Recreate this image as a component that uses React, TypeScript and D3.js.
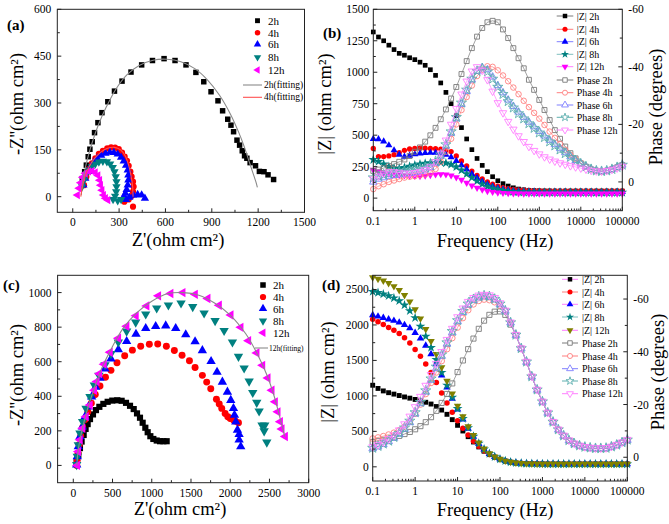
import React from "react";
import * as d3 from "d3";

type Pt = [number, number];
const SERIF = "'Liberation Serif', 'Times New Roman', serif";

// ---------- Bode frequency grid (Hz) ----------
const FREQ = [0.1, 0.1334, 0.1778, 0.2371, 0.3162, 0.4217, 0.5623, 0.7499, 1, 1.334, 1.778, 2.371, 3.162, 4.217, 5.623, 7.499, 10, 13.34, 17.78, 23.71, 31.62, 42.17, 56.23, 74.99, 100, 133.4, 177.8, 237.1, 316.2, 421.7, 562.3, 749.9, 1000, 1334, 1778, 2371, 3162, 4217, 5623, 7499, 10000, 13335, 17783, 23714, 31623, 42170, 56234, 74989, 100000];

// ---------- (a) Nyquist ----------
const A_2H: Pt[] = [[62,58],[77,80],[88,101],[100,128],[111,152],[126,176],[141,205],[163,237],[189,269],[227,304],[270,338],[319,370],[377,399],[446,422],[516,436],[591,442],[662,436],[733,422],[797,398],[848,368],[895,336],[940,307],[970,275],[1003,248],[1024,229],[1041,208],[1063,181],[1080,165],[1097,147],[1112,131],[1127,123],[1148,109],[1183,99],[1208,81],[1238,80],[1264,70],[1300,55]];
const A_4H: Pt[] = [[73,37],[88,64],[105,88],[124,107],[146,123],[169,137],[195,147],[223,155],[248,158],[274,157],[298,152],[319,141],[336,128],[351,115],[362,99],[373,80],[381,64],[390,48],[394,32],[390,16],[381,2],[362,-9],[334,-16],[390,-32]];
const A_6H: Pt[] = [[69,37],[81,59],[99,80],[116,96],[137,111],[159,123],[184,132],[212,139],[240,142],[266,141],[291,136],[313,126],[330,114],[345,100],[356,85],[360,69],[360,53],[356,37],[349,23],[341,11],[330,0],[345,-9],[366,-2],[394,4],[420,7],[446,5],[467,-5]];
const A_8H: Pt[] = [[60,32],[73,53],[88,72],[105,85],[124,96],[146,105],[169,111],[195,114],[221,112],[242,105],[259,94],[270,80],[278,64],[283,48],[283,32],[281,16],[274,2],[261,-9],[291,-13],[313,-9]];
const A_12H: Pt[] = [[30,5],[41,27],[51,45],[64,62],[81,75],[103,81],[124,82],[146,78],[163,68],[174,53],[180,37],[189,21],[199,5],[212,-5],[227,-11]];
const A_FIT_2H: Pt[] = [[55,5],[65,50],[80,90],[100,130],[130,180],[170,235],[220,290],[280,345],[350,390],[430,420],[520,437],[610,440],[700,432],[790,410],[870,375],[950,325],[1020,265],[1075,205],[1110,160],[1140,115],[1165,78],[1185,48],[1195,30]];
const A_FIT_4H: Pt[] = [[52,0],[62,30],[80,65],[105,95],[140,122],[180,142],[225,155],[270,158],[310,150],[340,130],[362,100],[378,65],[388,30],[390,0]];

// ---------- (c) Nyquist ----------
const C_2H: Pt[] = [[43,23],[64,61],[85,100],[106,138],[132,176],[157,211],[183,239],[213,268],[251,295],[289,320],[332,339],[383,356],[438,368],[497,375],[561,377],[616,374],[672,362],[723,345],[770,326],[812,301],[850,276],[884,247],[918,218],[948,192],[982,169],[1020,153],[1063,144],[1105,140],[1148,140],[1190,140]];
const C_4H: Pt[] = [[45,0],[50,30],[60,70],[75,120],[95,170],[120,220],[150,265],[185,310],[230,360],[280,410],[340,460],[410,510],[480,550],[557,594],[655,634],[753,667],[859,690],[969,701],[1076,703],[1186,690],[1288,665],[1386,638],[1480,605],[1552,567],[1645,521],[1700,482],[1752,444],[1824,383],[1860,355],[1892,330],[1935,300],[1969,282],[2000,272],[2020,270],[2045,262],[2062,257],[2105,247]];
const C_6H: Pt[] = [[43,4],[51,52],[64,109],[85,167],[115,224],[149,282],[191,339],[234,397],[285,454],[340,506],[404,559],[480,617],[574,670],[680,718],[799,760],[923,793],[1050,805],[1178,808],[1305,793],[1433,757],[1552,716],[1645,665],[1756,602],[1832,540],[1900,483],[1964,425],[2007,377],[2041,330],[2054,291],[2071,253],[2092,205],[2113,180],[2113,148],[2134,109]];
const C_8H: Pt[] = [[43,4],[51,52],[64,119],[85,186],[119,253],[162,330],[213,397],[268,464],[327,521],[404,582],[480,646],[574,713],[680,776],[795,828],[923,875],[1063,910],[1212,927],[1373,939],[1522,918],[1667,881],[1807,837],[1922,780],[2028,713],[2105,630],[2177,563],[2241,487],[2287,421],[2338,364],[2368,314],[2405,232],[2440,232],[2432,199],[2466,134]];
const C_12H: Pt[] = [[51,0],[64,80],[85,148],[119,215],[162,282],[213,349],[268,435],[300,485],[332,531],[391,586],[468,655],[574,736],[680,805],[799,866],[935,923],[1084,981],[1241,995],[1395,1000],[1552,990],[1713,966],[1858,927],[2007,870],[2134,799],[2232,722],[2338,651],[2411,579],[2479,506],[2530,435],[2572,368],[2606,310],[2636,253],[2657,211],[2700,167]];
const C_FIT_12H: Pt[] = [[45,0],[60,80],[90,160],[130,240],[190,340],[270,450],[370,570],[490,680],[630,790],[800,880],[1000,950],[1200,993],[1400,1000],[1600,985],[1800,940],[2000,870],[2200,760],[2350,640],[2470,520],[2560,400],[2620,300],[2660,230],[2695,165]];

// ---------- (b) Bode ----------
const B_Z2: number[] = [1320,1280,1250,1215,1180,1150,1135,1115,1100,1080,1055,1020,975,915,840,750,655,560,470,385,315,260,210,170,138,115,96,82,72,66,62,60,58,57,57,56,56,56,56,56,56,56,56,56,56,56,56,56,56];
const B_Z4: number[] = [395,330,330,335,345,362,380,390,395,396,396,395,393,388,380,370,335,295,255,215,180,152,128,110,95,84,76,70,66,63,61,60,59,58,58,58,58,58,58,58,58,58,58,58,58,58,58,58,58];
const B_Z6: number[] = [470,468,450,420,380,345,330,338,348,355,358,360,360,356,345,325,295,262,228,192,160,132,110,93,80,70,63,58,55,53,52,51,50,50,50,50,50,50,50,50,50,50,50,50,50,50,50,50,50];
const B_Z8: number[] = [305,290,270,250,238,235,242,252,262,270,276,280,283,283,278,266,248,222,192,163,136,112,93,78,67,59,54,50,48,47,46,45,45,45,45,45,45,45,45,45,45,45,45,45,45,45,45,45,45];
const B_Z12: number[] = [225,210,200,195,188,183,180,178,176,175,178,183,188,190,188,180,165,145,122,100,82,67,56,49,44,41,39,38,37,36,36,36,36,36,36,36,36,36,36,36,36,36,36,36,36,36,36,36,36];
const B_P2: number[] = [-3.8,-4.3,-4.8,-5.5,-6.2,-7.0,-7.8,-9.0,-10.5,-12,-14,-16.2,-18.8,-21.8,-25.2,-29,-33,-37.5,-42,-46.5,-50.5,-53.5,-55.5,-56,-55.5,-53,-50,-46.5,-43,-39.5,-35.5,-32,-28.5,-25,-21.5,-18,-15,-12.3,-10,-8.2,-6.5,-5.3,-4.4,-3.9,-3.7,-3.9,-4.4,-5.1,-5.9];
const B_P4: number[] = [2.5,1.5,0.8,0,-0.5,-1,-1.5,-1.8,-2,-2.3,-2.6,-3.2,-4.5,-7,-10.5,-15,-20,-25,-29.5,-33.5,-36.8,-39,-40.2,-40,-38.8,-37,-35,-32.8,-30.5,-28.2,-26,-24,-22,-19.8,-17.5,-15.3,-13.2,-11.2,-9.4,-7.9,-6.5,-5.3,-4.4,-3.9,-3.7,-3.9,-4.4,-5.1,-5.9];
const B_P6: number[] = [0,-1,-1.5,-2,-2.3,-2.5,-2.8,-3,-3.3,-3.7,-4.2,-5,-6.5,-9,-12.5,-17,-22,-27,-31.5,-35.5,-38.5,-39.8,-39,-36.5,-33.5,-31,-28.5,-26.3,-24.3,-22.5,-20.8,-19.2,-17.6,-16,-14.5,-13,-11.6,-10.2,-8.8,-7.5,-6.4,-5.3,-4.4,-3.9,-3.7,-3.9,-4.4,-5.1,-5.9];
const B_P8: number[] = [-1.5,-2,-2.5,-3,-3.3,-3.5,-3.7,-4,-4.3,-4.6,-5,-5.8,-7.2,-9.5,-13,-17.5,-22.5,-27.5,-32,-35.8,-38.5,-39.4,-38.3,-35.8,-33,-30.5,-28,-25.8,-23.8,-22,-20.3,-18.7,-17.1,-15.5,-14,-12.6,-11.2,-9.9,-8.6,-7.4,-6.3,-5.3,-4.4,-3.9,-3.7,-3.9,-4.4,-5.1,-5.9];
const B_P12: number[] = [-1,-2,-3,-3.5,-3.5,-3.3,-3,-3,-3.2,-3.6,-4.2,-5.2,-7,-10,-14.5,-20,-25.5,-30.5,-35,-38.5,-40,-38.8,-35.5,-31.5,-27.5,-24,-21,-18.3,-16,-14,-12.3,-10.9,-9.7,-8.7,-7.9,-7.2,-6.6,-6.1,-5.6,-5.2,-4.8,-4.4,-4.0,-3.8,-3.7,-3.9,-4.3,-4.8,-5.4];

// ---------- (d) Bode ----------
const D_Z2: number[] = [1150,1105,1070,1045,1025,1005,985,968,950,930,910,885,850,800,740,665,585,505,425,350,280,220,172,135,104,81,64,54,48,45,43,42,41,40,40,40,40,40,40,40,40,40,40,40,40,40,40,40,40];
const D_Z4: number[] = [2080,2045,2005,1965,1925,1880,1820,1745,1655,1560,1450,1330,1190,1040,900,770,650,545,450,360,290,228,178,138,106,82,65,55,49,45,43,42,41,40,40,40,40,40,40,40,40,40,40,40,40,40,40,40,40];
const D_Z6: number[] = [2140,2120,2100,2080,2060,2035,2000,1955,1890,1810,1710,1590,1450,1290,1120,960,810,670,540,425,325,245,184,140,107,83,66,56,50,46,44,42,41,40,40,40,40,40,40,40,40,40,40,40,40,40,40,40,40];
const D_Z8: number[] = [2470,2455,2435,2410,2380,2340,2280,2200,2100,1980,1840,1680,1510,1330,1150,980,820,680,550,430,330,248,186,142,108,84,67,56,50,46,44,42,41,40,40,40,40,40,40,40,40,40,40,40,40,40,40,40,40];
const D_Z12: number[] = [2670,2650,2625,2590,2545,2490,2420,2330,2220,2090,1940,1770,1590,1400,1210,1030,860,710,570,445,340,255,190,145,110,85,68,57,50,46,44,42,41,40,40,40,40,40,40,40,40,40,40,40,40,40,40,40,40];
const D_P2: number[] = [-5.8,-6.2,-6.6,-7.0,-7.5,-8.1,-8.8,-9.6,-10.6,-11.8,-13.3,-15.2,-17.6,-20.6,-24,-28,-32.3,-36.7,-41,-45,-48.7,-51.8,-54,-55.2,-55.3,-54,-50.3,-46.3,-41.2,-36.1,-30.5,-25.5,-21,-16.8,-13.3,-10.4,-8.1,-6.3,-5.1,-4.3,-3.8,-3.5,-3.3,-3.3,-3.4,-3.9,-4.6,-5.5,-6.5];
const D_P4: number[] = [-7.1,-7.5,-8.0,-8.6,-9.3,-10.2,-11.6,-13.5,-16.5,-20,-24,-28.2,-32.2,-36.5,-41,-45.2,-49.2,-52.8,-55.8,-58,-59.3,-59.8,-59.6,-58.8,-57.5,-55.5,-51,-46.3,-41.2,-36.1,-30.5,-25.5,-21,-16.8,-13.3,-10.4,-8.1,-6.3,-5.1,-4.3,-3.8,-3.5,-3.3,-3.3,-3.4,-3.9,-4.6,-5.5,-6.5];
const D_P6: number[] = [-3.3,-4.0,-4.9,-6.0,-7.3,-8.8,-10.7,-13.2,-16.5,-20.4,-24.8,-29.3,-33.8,-38.4,-43,-47.3,-51.5,-55,-57.8,-59.5,-60.5,-61,-60.7,-59.8,-58,-55.5,-51,-46.3,-41.2,-36.1,-30.5,-25.5,-21,-16.8,-13.3,-10.4,-8.1,-6.3,-5.1,-4.3,-3.8,-3.5,-3.3,-3.3,-3.4,-3.9,-4.6,-5.5,-6.5];
const D_P8: number[] = [-3.5,-4.2,-5.1,-6.2,-7.6,-9.2,-11.2,-13.8,-17,-20.9,-25.3,-29.8,-34.3,-38.9,-43.5,-47.8,-51.9,-55.4,-58.2,-59.9,-60.9,-61.3,-61,-60,-58.2,-55.6,-51.1,-46.4,-41.3,-36.2,-30.6,-25.6,-21.1,-16.9,-13.4,-10.5,-8.2,-6.4,-5.2,-4.4,-3.9,-3.6,-3.4,-3.4,-3.5,-4.0,-4.7,-5.6,-6.6];
const D_P12: number[] = [-3.9,-4.8,-5.8,-7.0,-8.4,-10.3,-12.6,-15.5,-19.1,-23,-27.2,-31.3,-35.5,-40,-44.6,-48.8,-53.2,-56.5,-59,-60.5,-61.4,-61.7,-61.5,-60.5,-58.5,-55.7,-51.2,-46.5,-41.4,-36.3,-30.7,-25.7,-21.2,-17,-13.5,-10.6,-8.3,-6.5,-5.3,-4.5,-4.0,-3.7,-3.5,-3.5,-3.6,-4.1,-4.8,-5.7,-6.7];

// ---------- labels / ticks ----------
const HOURS = ["2h", "4h", "6h", "8h", "12h"];
const A_XTICKS = [0, 300, 600, 900, 1200, 1500];
const A_YTICKS = [0, 150, 300, 450, 600];
const C_XTICKS = [0, 500, 1000, 1500, 2000, 2500, 3000];
const C_YTICKS = [0, 200, 400, 600, 800, 1000];
const F_TICKS = [0.1, 1, 10, 100, 1000, 10000, 100000];
const F_LABELS = ["0.1", "1", "10", "100", "1000", "10000", "100000"];
const B_ZTICKS = [0, 250, 500, 750, 1000, 1250, 1500];
const D_ZTICKS = [0, 500, 1000, 1500, 2000, 2500];
const P_TICKS = [-60, -40, -20, 0];

const SYM: Record<string, d3.SymbolType> = {
  square: d3.symbolSquare, circle: d3.symbolCircle, up: d3.symbolTriangle,
  down: d3.symbolTriangle, left: d3.symbolTriangle, star: d3.symbolStar,
};
const ROT: Record<string, number> = { down: 180, left: -90 };

function Mk({ x, y, shape, size, fill, stroke, sw = 1 }: any) {
  const d = d3.symbol(SYM[shape], size)() as string;
  const r = ROT[shape] ? ` rotate(${ROT[shape]})` : "";
  return <path d={d} transform={`translate(${x.toFixed(2)},${y.toFixed(2)})${r}`} fill={fill} stroke={stroke} strokeWidth={sw} />;
}

function Nyquist({ box, xd, yd, xMajor, yMajor, xMinor, yMinor, series, fits, leg, fitLeg, size }: any) {
  const x = d3.scaleLinear().domain(xd).range([box.l, box.r]);
  const y = d3.scaleLinear().domain(yd).range([box.b, box.t]);
  const ln = d3.line<Pt>().x(d => x(d[0])).y(d => y(d[1])).curve(d3.curveCatmullRom.alpha(0.5));
  return (
    <g>
      {series.map((s: any, i: number) => (
        <g key={i}>{s.data.map((p: Pt, j: number) => (
          <Mk key={j} x={x(p[0])} y={y(p[1])} shape={s.shape} size={size} fill={s.color} stroke="none" />
        ))}</g>
      ))}
      {fits.map((f: any, i: number) => <path key={i} d={ln(f.data) as string} fill="none" stroke={f.color} strokeWidth={1.1} />)}
      <rect x={box.l} y={box.t} width={box.r - box.l} height={box.b - box.t} fill="none" stroke="#222" strokeWidth={1} />
      {xMajor.map((v: number) => <line key={"xm" + v} x1={x(v)} x2={x(v)} y1={box.b} y2={box.b - 4} stroke="#222" />)}
      {xMinor.map((v: number) => <line key={"xn" + v} x1={x(v)} x2={x(v)} y1={box.b} y2={box.b - 2.5} stroke="#222" />)}
      {yMajor.map((v: number) => <line key={"ym" + v} x1={box.l} x2={box.l + 4} y1={y(v)} y2={y(v)} stroke="#222" />)}
      {yMinor.map((v: number) => <line key={"yn" + v} x1={box.l} x2={box.l + 2.5} y1={y(v)} y2={y(v)} stroke="#222" />)}
      {xMajor.map((v: number) => <text key={"xl" + v} x={x(v)} y={box.b + 14} textAnchor="middle" fontSize={11.5}>{v}</text>)}
      {yMajor.map((v: number) => <text key={"yl" + v} x={box.l - 6} y={y(v) + 4} textAnchor="end" fontSize={11.5}>{v}</text>)}
      {series.map((s: any, i: number) => (
        <g key={"lg" + i}>
          <Mk x={leg.mx} y={leg.ys[i]} shape={s.shape} size={size * 0.8} fill={s.color} stroke="none" />
          <text x={leg.tx} y={leg.ys[i] + 4} fontSize={11}>{s.label}</text>
        </g>
      ))}
      {fits.map((f: any, i: number) => (
        <g key={"fl" + i}>
          <line x1={fitLeg.x0} x2={fitLeg.x1} y1={fitLeg.ys[i]} y2={fitLeg.ys[i]} stroke={f.color} strokeWidth={1.1} />
          <text x={fitLeg.tx} y={fitLeg.ys[i] + 3} fontSize={fitLeg.fs}>{f.label}</text>
        </g>
      ))}
    </g>
  );
}

function Bode({ box, zd, pd, zMajor, zMinor, pMinor, zSeries, pSeries, legend }: any) {
  const x = d3.scaleLog().domain([0.1, 100000]).range([box.l, box.r]);
  const yz = d3.scaleLinear().domain(zd).range([box.b, box.t]);
  const yp = d3.scaleLinear().domain(pd).range([box.b, box.t]);
  const minorF: number[] = [];
  for (let e = -1; e < 5; e++) for (let k = 2; k <= 9; k++) minorF.push(k * Math.pow(10, e));
  const pl = d3.line<number>().x((_, i) => x(FREQ[i])).y(v => yp(v));
  return (
    <g>
      {zSeries.map((s: any, i: number) => (
        <g key={"z" + i}>{s.values.map((v: number, j: number) => (
          <Mk key={j} x={x(FREQ[j])} y={yz(v)} shape={s.shape} size={s.size || 22} fill={s.color} stroke="none" />
        ))}</g>
      ))}
      {pSeries.map((s: any, i: number) => (
        <g key={"p" + i}>
          <path d={pl(s.values) as string} fill="none" stroke={s.color} strokeWidth={0.7} />
          {s.values.map((v: number, j: number) => (
            <Mk key={j} x={x(FREQ[j])} y={yp(v)} shape={s.shape} size={s.size || 24} fill="none" stroke={s.color} sw={0.9} />
          ))}
        </g>
      ))}
      <rect x={box.l} y={box.t} width={box.r - box.l} height={box.b - box.t} fill="none" stroke="#222" strokeWidth={1} />
      {F_TICKS.map(v => <line key={"fm" + v} x1={x(v)} x2={x(v)} y1={box.b} y2={box.b - 4} stroke="#222" />)}
      {minorF.map(v => <line key={"fn" + v} x1={x(v)} x2={x(v)} y1={box.b} y2={box.b - 2.2} stroke="#222" />)}
      {F_TICKS.map((v, i) => <text key={"fl" + v} x={x(v)} y={box.b + 14} textAnchor="middle" fontSize={11.5}>{F_LABELS[i]}</text>)}
      {zMajor.map((v: number) => <line key={"zm" + v} x1={box.l} x2={box.l + 4} y1={yz(v)} y2={yz(v)} stroke="#222" />)}
      {zMinor.map((v: number) => <line key={"zn" + v} x1={box.l} x2={box.l + 2.5} y1={yz(v)} y2={yz(v)} stroke="#222" />)}
      {zMajor.map((v: number) => <text key={"zl" + v} x={box.l - 4} y={yz(v) + 4} textAnchor="end" fontSize={11.5}>{v}</text>)}
      {P_TICKS.map(v => <line key={"pm" + v} x1={box.r} x2={box.r - 4} y1={yp(v)} y2={yp(v)} stroke="#222" />)}
      {pMinor.map((v: number) => <line key={"pn" + v} x1={box.r} x2={box.r - 2.5} y1={yp(v)} y2={yp(v)} stroke="#222" />)}
      {P_TICKS.map(v => <text key={"pl" + v} x={box.r + 6} y={yp(v) + 4} fontSize={11.5}>{v}</text>)}
      {legend.items.map((it: any, i: number) => {
        const yy = legend.ys[i];
        return (
          <g key={"lg" + i}>
            <line x1={legend.x0} x2={legend.x1} y1={yy} y2={yy} stroke={it.line} strokeWidth={1} />
            <Mk x={(legend.x0 + legend.x1) / 2} y={yy} shape={it.shape} size={20}
              fill={it.hollow ? "#fff" : it.color} stroke={it.hollow ? it.color : "none"} sw={0.9} />
            <text x={legend.tx} y={yy + 3.5} fontSize={10}>{it.label}</text>
          </g>
        );
      })}
    </g>
  );
}

const NYQ_COLORS = ["#000000", "#ff0000", "#0000ff", "#008080", "#ff00ff"];
const NYQ_SHAPES = ["square", "circle", "up", "down", "left"];
const Z_SHAPES = ["square", "circle", "up", "star", "down"];
const P_SHAPES = ["square", "circle", "up", "star", "down"];
const P_COLORS = ["#7a7a7a", "#ff7f7f", "#7f7fff", "#5fb0b0", "#ff7fff"];

export default function App() {
  const aSeries = [A_2H, A_4H, A_6H, A_8H, A_12H].map((d, i) => ({ data: d, shape: NYQ_SHAPES[i], color: NYQ_COLORS[i], label: HOURS[i] }));
  const cSeries = [C_2H, C_4H, C_6H, C_8H, C_12H].map((d, i) => ({ data: d, shape: NYQ_SHAPES[i], color: NYQ_COLORS[i], label: HOURS[i] }));
  const bZ = [B_Z2, B_Z4, B_Z6, B_Z8, B_Z12].map((v, i) => ({ values: v, shape: Z_SHAPES[i], color: NYQ_COLORS[i], size: i === 3 ? 30 : 22 }));
  const bP = [B_P2, B_P4, B_P6, B_P8, B_P12].map((v, i) => ({ values: v, shape: P_SHAPES[i], color: P_COLORS[i], size: i === 3 ? 32 : 24 }));
  const dZc = ["#000000", "#ff0000", "#0000ff", "#008080", "#808000"];
  const dZ = [D_Z2, D_Z4, D_Z6, D_Z8, D_Z12].map((v, i) => ({ values: v, shape: Z_SHAPES[i], color: dZc[i], size: i === 3 ? 30 : 24 }));
  const dP = [D_P2, D_P4, D_P6, D_P8, D_P12].map((v, i) => ({ values: v, shape: P_SHAPES[i], color: P_COLORS[i], size: i === 3 ? 32 : 26 }));

  const bLegLines = ["#7a7a7a", "#ff7f7f", "#7f7fff", "#7fbfbf", "#ff7fff"];
  const dLegLines = ["#ff7fff", "#ff7f7f", "#ff7fff", "#7fbfbf", "#ff7fff"];
  const mkItems = (zc: string[], zl: string[]) => [
    ...HOURS.map((h, i) => ({ label: `|Z| ${h}`, line: zl[i], shape: Z_SHAPES[i], color: zc[i], hollow: false })),
    ...HOURS.map((h, i) => ({ label: `Phase ${h}`, line: P_COLORS[i], shape: P_SHAPES[i], color: P_COLORS[i], hollow: true })),
  ];
  const TF = 18.5;

  return (
    <svg width={669} height={524} style={{ position: "absolute", left: 0, top: 0 }} fontFamily={SERIF}>
      <rect width={669} height={524} fill="#fff" />
      <Nyquist
        box={{ l: 57.3, r: 304.5, t: 9.3, b: 212.3 }} xd={[-100, 1500]} yd={[-50, 600]}
        xMajor={A_XTICKS} yMajor={A_YTICKS} xMinor={[150, 450, 750, 1050, 1350]} yMinor={[75, 225, 375, 525]}
        series={aSeries} size={30}
        fits={[{ data: A_FIT_2H, color: "#8a8a8a", label: "2h(fitting)" }, { data: A_FIT_4H, color: "#ff5050", label: "4h(fitting)" }]}
        leg={{ mx: 257.5, tx: 268, ys: [20.7, 32.7, 44.3, 57.3, 70] }}
        fitLeg={{ x0: 243, x1: 262, tx: 264, ys: [85, 97.3], fs: 9.5 }}
      />
      <Nyquist
        box={{ l: 57.6, r: 308.7, t: 275.3, b: 482.7 }} xd={[-200, 3000]} yd={[-100, 1100]}
        xMajor={C_XTICKS} yMajor={C_YTICKS} xMinor={[250, 750, 1250, 1750, 2250, 2750]} yMinor={[100, 300, 500, 700, 900]}
        series={cSeries} size={38}
        fits={[{ data: C_FIT_12H, color: "#8a8a8a", label: "12h(fitting)" }]}
        leg={{ mx: 263, tx: 273, ys: [285, 297, 308.7, 321, 332.7] }}
        fitLeg={{ x0: 255, x1: 268, tx: 269, ys: [348], fs: 7.5 }}
      />
      <Bode
        box={{ l: 373.3, r: 622.3, t: 9.3, b: 210.7 }} zd={[-100, 1500]} pd={[10, -60]}
        zMajor={B_ZTICKS} zMinor={[125, 375, 625, 875, 1125, 1375]} pMinor={[-50, -30, -10]}
        zSeries={bZ} pSeries={bP}
        legend={{ x0: 556.7, x1: 573.3, tx: 576.7, ys: [16, 29.3, 41.7, 54.3, 66.7, 80, 92.7, 105, 117.3, 130], items: mkItems(NYQ_COLORS, bLegLines) }}
      />
      <Bode
        box={{ l: 372.7, r: 627.3, t: 275.3, b: 481 }} zd={[-200, 2700]} pd={[9, -69]}
        zMajor={D_ZTICKS} zMinor={[250, 750, 1250, 1750, 2250]} pMinor={[-50, -30, -10]}
        zSeries={dZ} pSeries={dP}
        legend={{ x0: 562, x1: 578, tx: 582, ys: [279.3, 292, 304.3, 317, 330.3, 343, 356, 368.7, 381, 393.7], items: mkItems(dZc, dLegLines) }}
      />
      {/* axis titles */}
      <text transform="translate(23,104) rotate(-90)" textAnchor="middle" fontSize={TF}>-Z''(ohm cm²)</text>
      <text x={178} y={246} textAnchor="middle" fontSize={TF}>Z'(ohm cm²)</text>
      <text transform="translate(331,104) rotate(-90)" textAnchor="middle" fontSize={TF}>|Z|  (ohm cm²)</text>
      <text transform="translate(662,107) rotate(-90)" textAnchor="middle" fontSize={TF}>Phase (degrees)</text>
      <text x={495} y={247} textAnchor="middle" fontSize={TF}>Frequency (Hz)</text>
      <text transform="translate(23,375) rotate(-90)" textAnchor="middle" fontSize={TF}>-Z''(ohm cm²)</text>
      <text x={180} y={515} textAnchor="middle" fontSize={TF}>Z'(ohm cm²)</text>
      <text transform="translate(334,372) rotate(-90)" textAnchor="middle" fontSize={TF}>|Z|  (ohm cm²)</text>
      <text transform="translate(664,372) rotate(-90)" textAnchor="middle" fontSize={TF}>Phase (degrees)</text>
      <text x={495} y={516} textAnchor="middle" fontSize={TF}>Frequency (Hz)</text>
      {/* panel labels */}
      <text x={7} y={30} fontSize={15} fontWeight="bold">(a)</text>
      <text x={323} y={38} fontSize={15} fontWeight="bold">(b)</text>
      <text x={3} y={290} fontSize={15} fontWeight="bold">(c)</text>
      <text x={322} y={290} fontSize={15} fontWeight="bold">(d)</text>
    </svg>
  );
}
